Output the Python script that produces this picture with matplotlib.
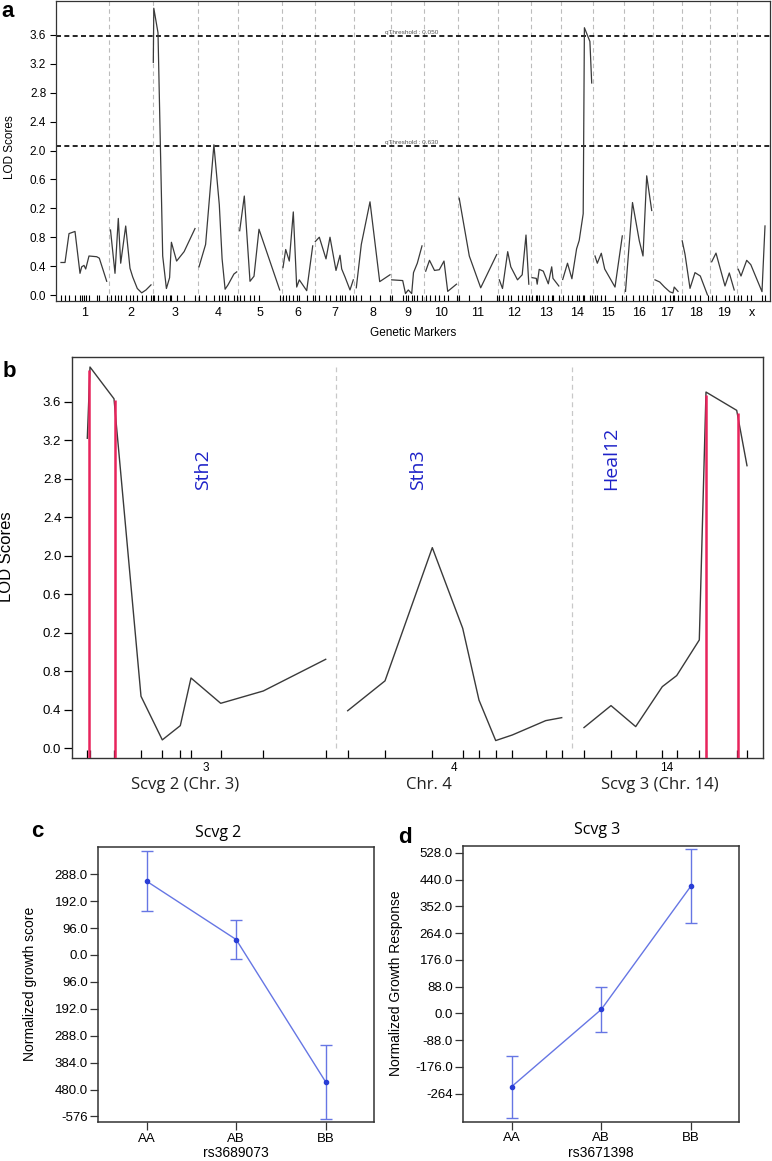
import numpy as np
import matplotlib
matplotlib.use('Agg')
import matplotlib.pyplot as plt

plt.rcParams['font.family'] = ['Liberation Sans', 'DejaVu Sans']

# --- panel a / b y axis (labels as printed in the figure) ---
lod_ticks = [0.0, 0.4, 0.8, 1.2, 1.6, 2.0, 2.4, 2.8, 3.2, 3.6]
lod_tick_labels = ['0.0', '0.4', '0.8', '0.2', '0.6', '2.0', '2.4', '2.8', '3.2', '3.6']

# --- panel a: genome scan (position along genome, LOD) ---
chrom_names = [str(i) for i in range(1, 20)] + ['x']
chrom_breaks = [109, 152.7, 198, 238, 281.7, 314.7, 354.3, 391, 424.3, 457.7,
                497.7, 531, 561, 592.7, 624.3, 653.3, 681.7, 710, 737.3]
genome_start, genome_end = 60, 767

chrom_pos = [
    [61, 65, 69, 75, 80, 81.7, 84, 85.7, 89, 96.7, 99.3, 106.7],
    [110.5, 115, 118.3, 120.7, 125.7, 130, 132.7, 137.3, 141.7, 146, 151],
    [153.3, 153.8, 158.0, 162.7, 166.4, 169.6, 171.4, 176.6, 184.1, 195],
    [199, 205.6, 213.9, 219.3, 222.1, 225.1, 228.0, 233.9, 236.7],
    [239.7, 244.3, 250, 254, 259, 279.7],
    [283, 285.7, 289.3, 293.3, 296.7, 299.3, 306.7, 312.7],
    [315.3, 319.3, 326, 330, 336, 340, 341.7, 345, 350, 353.3],
    [356.3, 361.3, 370, 379.7, 390],
    [391.7, 402.7, 405.5, 408.3, 411.7, 413.5, 417.3, 422],
    [425.7, 429.5, 434.5, 439.3, 444, 447.7, 456.5],
    [459.2, 469.3, 480.7, 496.7],
    [499.3, 502.5, 507.7, 510.8, 517.5, 522.2, 526, 528.8],
    [532.2, 536.3, 537.2, 539.2, 543.3, 548.3, 551.7, 553, 558.8],
    [562.7, 567.5, 571.9, 576.6, 579.2, 583.2, 584.4, 589.9, 591.7],
    [595, 597.3, 601.3, 604.7, 615, 622.3],
    [625.5, 632.5, 639.3, 643, 646.7, 651.7],
    [655, 659.7, 664.5, 669.7, 673, 674.2, 678],
    [682.2, 685, 690, 695, 700.3, 707.5],
    [711.7, 716, 725, 729.3, 734.2],
    [738.3, 741, 746.7, 750.8, 762, 765],
]
chrom_lod = [
    [0.45, 0.45, 0.85, 0.88, 0.30, 0.39, 0.41, 0.36, 0.54, 0.53, 0.51, 0.19],
    [0.90, 0.30, 1.06, 0.44, 0.955, 0.37, 0.25, 0.09, 0.03, 0.07, 0.14],
    [3.22, 3.97, 3.63, 0.54, 0.09, 0.24, 0.73, 0.47, 0.60, 0.92],
    [0.39, 0.70, 2.08, 1.25, 0.50, 0.08, 0.14, 0.29, 0.32],
    [0.89, 1.37, 0.19, 0.26, 0.91, 0.07],
    [0.38, 0.63, 0.47, 1.15, 0.11, 0.21, 0.06, 0.68],
    [0.74, 0.80, 0.50, 0.80, 0.34, 0.55, 0.36, 0.25, 0.07, 0.21],
    [0.10, 0.70, 1.29, 0.185, 0.28],
    [0.21, 0.20, 0.02, 0.07, 0.02, 0.31, 0.44, 0.68],
    [0.33, 0.48, 0.34, 0.35, 0.47, 0.05, 0.15],
    [1.34, 0.54, 0.10, 0.56],
    [0.21, 0.09, 0.60, 0.39, 0.21, 0.28, 0.83, 0.15],
    [0.24, 0.23, 0.15, 0.355, 0.33, 0.155, 0.39, 0.23, 0.125],
    [0.215, 0.44, 0.225, 0.64, 0.755, 1.125, 3.70, 3.51, 2.935],
    [0.54, 0.44, 0.578, 0.36, 0.11, 0.818],
    [0.05, 1.28, 0.75, 0.54, 1.65, 1.17],
    [0.21, 0.18, 0.11, 0.045, 0.028, 0.11, 0.05],
    [0.75, 0.565, 0.092, 0.31, 0.263, 0.0],
    [0.46, 0.58, 0.125, 0.305, 0.07],
    [0.356, 0.263, 0.48, 0.42, 0.046, 0.956],
]
thresholds = [3.586, 2.068]
threshold_labels = ['qThreshold : 0.050', 'qThreshold : 0.630']

# --- panel b: zoom on three regions ---
region_pos = [
    [87.3, 90, 114, 141, 162.3, 180.3, 191, 220.7, 263.3, 325.7],
    [347.7, 385, 432.3, 462.7, 479, 495.7, 512.3, 545.7, 561.7],
    [584, 611, 635.7, 662.3, 676.7, 699.3, 706, 736.7, 747],
]
region_lod = [
    [3.22, 3.96, 3.63, 0.54, 0.087, 0.235, 0.73, 0.467, 0.595, 0.924],
    [0.39, 0.70, 2.084, 1.246, 0.50, 0.08, 0.138, 0.287, 0.318],
    [0.215, 0.443, 0.225, 0.64, 0.755, 1.125, 3.70, 3.51, 2.935],
]
region_breaks = [336, 572.3]
region_chrom = ['3', '4', '14']
region_chrom_pos = [206, 454, 666.7]
region_names = ['Scvg 2 (Chr. 3)', 'Chr. 4', 'Scvg 3 (Chr. 14)']
qtl_names = ['Sth2', 'Sth3', 'Heal12']
peak_pos = [88.7, 114.6, 706.2, 737.6]
peak_lod = [3.93, 3.62, 3.67, 3.48]

# --- panels c / d: genotype effects ---
genotypes = ['AA', 'AB', 'BB']
c_mean = [263, 55, -453]
c_upper = [372, 126, -322]
c_lower = [155, -15, -586]
c_ticks = [288, 192, 96, 0, -96, -192, -288, -384, -480, -576]
c_tick_labels = ['288.0', '192.0', '96.0', '0.0', '96.0', '192.0', '288.0', '384.0', '480.0', '-576']

d_mean = [-241, 13, 419]
d_upper = [-141, 88, 540]
d_lower = [-343, -61, 296]
d_ticks = [528, 440, 352, 264, 176, 88, 0, -88, -176, -264]
d_tick_labels = ['528.0', '440.0', '352.0', '264.0', '176.0', '88.0', '0.0', '-88.0', '-176.0', '-264']

W, H = 772, 1161
fig = plt.figure(figsize=(W / 100, H / 100), dpi=100)


def box(l, t, r, b):
    return [l / W, 1 - b / H, (r - l) / W, (b - t) / H]


def fx(px):
    return px / W


def fy(py):
    return 1 - py / H


line_col = '#3a3a3a'
spine_col = '#333333'

# ================= panel a =================
ax = fig.add_axes(box(56, 1, 770, 301))
for b in chrom_breaks:
    ax.axvline(b, color='#bcbcbc', lw=0.8, ls=(0, (4, 3)), zorder=1)
for pos, lod in zip(chrom_pos, chrom_lod):
    ax.plot(pos, lod, color=line_col, lw=0.9, zorder=3)
for t, lab in zip(thresholds, threshold_labels):
    ax.axhline(t, color='black', lw=1.2, ls=(0, (3, 2)), zorder=2)
    ax.text(385, t + 0.01, lab, fontsize=4.6, color='#555555', va='bottom', ha='left')
ax.set_xlim(56, 770)
ax.set_ylim(-0.083, 4.07)
ax.set_yticks(lod_ticks)
ax.set_yticklabels(lod_tick_labels)
edges = np.array([genome_start] + chrom_breaks + [genome_end])
ax.set_xticks((edges[:-1] + edges[1:]) / 2)
ax.set_xticklabels(chrom_names)
ax.set_xticks(np.concatenate(chrom_pos), minor=True)
ax.tick_params(axis='y', direction='out', length=4.5, width=0.8, pad=2.5, labelsize=8.5)
ax.tick_params(axis='x', which='major', length=0, pad=4, labelsize=9)
ax.tick_params(axis='x', which='minor', direction='in', length=4.5, width=0.8)
ax.set_ylabel('LOD Scores', fontsize=8.5)
ax.yaxis.set_label_coords(-0.056, 0.512)
ax.set_xlabel('Genetic Markers', fontsize=8.5)
ax.xaxis.set_label_coords(0.5, -0.085)
for s in ax.spines.values():
    s.set_color(spine_col)
    s.set_linewidth(0.9)

# ================= panel b =================
bx = fig.add_axes(box(71.7, 357.3, 762.7, 757.7))
for b in region_breaks:
    bx.vlines(b, 0, 3.96, color='#c8c8c8', lw=0.9, ls=(0, (4, 3)), zorder=1)
for pos, lod in zip(region_pos, region_lod):
    bx.plot(pos, lod, color=line_col, lw=1.0, zorder=3)
bx.vlines(peak_pos, -0.098, peak_lod, color='#e8245c', lw=1.8, zorder=4)
bx.set_xlim(71.7, 762.7)
bx.set_ylim(-0.098, 4.061)
bx.set_yticks(lod_ticks)
bx.set_yticklabels(lod_tick_labels)
bx.set_xticks(region_chrom_pos)
bx.set_xticklabels(region_chrom)
bx.set_xticks(np.concatenate(region_pos), minor=True)
bx.tick_params(axis='y', direction='out', length=6, width=0.9, pad=1.5, labelsize=9.5)
bx.tick_params(axis='x', which='major', length=0, pad=3, labelsize=8.5)
bx.tick_params(axis='x', which='minor', direction='in', length=6, width=0.9)
bx.set_ylabel('LOD Scores', fontsize=12)
bx.yaxis.set_label_coords(-0.083, 0.502)
for s in bx.spines.values():
    s.set_color(spine_col)
    s.set_linewidth(1.0)

for name, x in zip(region_names, [185, 429, 660]):
    fig.text(fx(x), fy(785), name, ha='center', va='center', fontsize=12,
             family=['Open Sans', 'DejaVu Sans'], color='#222222')
for name, x in zip(qtl_names, [203, 418, 611]):
    fig.text(fx(x), fy(490), name, ha='center', va='bottom', rotation=90, fontsize=14,
             family=['Open Sans', 'DejaVu Sans'], color='#1e22c8')

# ================= panels c, d =================
err_col = '#6676e4'
dot_col = '#2a3ed6'


def effect_panel(rect, mean, upper, lower, ticks, tick_labels, ylim, ylabel, xlabel, ylab_x):
    a = fig.add_axes(rect)
    xs = np.arange(len(genotypes))
    mean = np.array(mean)
    yerr = [mean - np.array(lower), np.array(upper) - mean]
    a.errorbar(xs, mean, yerr=yerr, color=err_col, lw=1.0, elinewidth=1.0,
               capsize=4, capthick=1.0, marker='o', ms=3, mfc=dot_col, mec=dot_col)
    a.set_xlim(-0.54, 2.54)
    a.set_ylim(*ylim)
    a.set_xticks(xs)
    a.set_xticklabels(genotypes)
    a.set_yticks(ticks)
    a.set_yticklabels(tick_labels)
    a.tick_params(axis='both', direction='out', length=6, width=0.9, labelsize=9.5, color='#333333')
    a.tick_params(axis='y', pad=1.5)
    a.tick_params(axis='x', pad=1.5)
    a.set_ylabel(ylabel, fontsize=10)
    a.yaxis.set_label_coords(ylab_x, 0.503)
    a.set_xlabel(xlabel, fontsize=10)
    a.xaxis.set_label_coords(0.5, -0.087)
    for s in a.spines.values():
        s.set_color('#333333')
        s.set_linewidth(1.1)
    return a


effect_panel(box(98.3, 847.3, 374, 1122.3), c_mean, c_upper, c_lower, c_ticks, c_tick_labels,
             (-597, 384), 'Normalized growth score', 'rs3689073', -0.222)
effect_panel(box(463.3, 845.7, 739.3, 1121.7), d_mean, d_upper, d_lower, d_ticks, d_tick_labels,
             (-356.6, 552), 'Normalized Growth Response', 'rs3671398', -0.217)

fig.text(fx(218), fy(837), 'Scvg 2', ha='center', va='baseline', fontsize=11.5,
         family=['Open Sans', 'DejaVu Sans'])
fig.text(fx(596.7), fy(834), 'Scvg 3', ha='center', va='baseline', fontsize=11.5,
         family=['Open Sans', 'DejaVu Sans'])

# panel letters
for letter, x, y in [('a', 1.5, 17), ('b', 2.5, 377), ('c', 31.5, 837), ('d', 398.5, 843)]:
    fig.text(fx(x), fy(y), letter, ha='left', va='baseline', fontsize=16, fontweight='bold')

fig.savefig('out.png', dpi=100)
